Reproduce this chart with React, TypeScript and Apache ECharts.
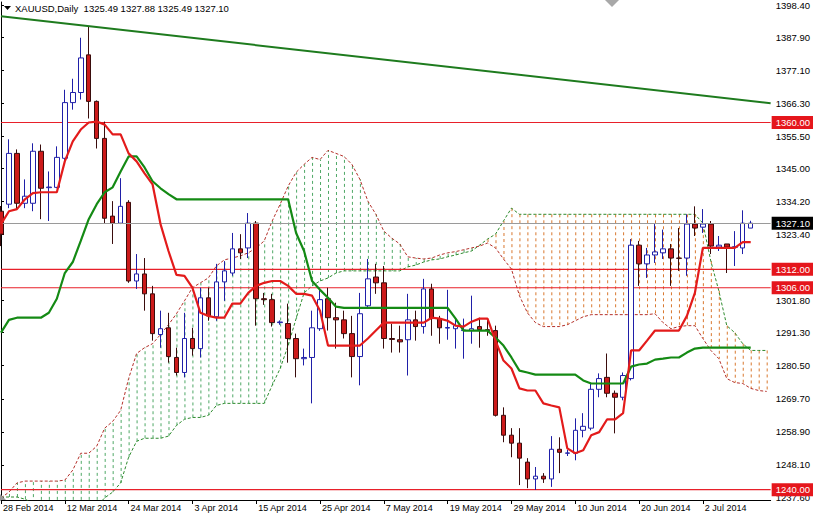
import React, { useEffect, useRef } from "react";
import * as echarts from "echarts";

// ---- data ----
const xLabelIdx = [0, 8, 16, 24, 32, 40, 48, 56, 64, 72, 80, 88];
const xLabels = ["28 Feb 2014", "12 Mar 2014", "24 Mar 2014", "3 Apr 2014", "15 Apr 2014", "25 Apr 2014", "7 May 2014", "19 May 2014", "29 May 2014", "10 Jun 2014", "20 Jun 2014", "2 Jul 2014"];
const yTicks = [1398.4, 1387.9, 1377.1, 1366.3, 1355.5, 1345.0, 1334.2, 1323.4, 1301.8, 1291.3, 1280.5, 1269.7, 1258.9, 1248.1, 1237.6];

const open = [1331.0, 1333.3, 1349.9, 1333.6, 1333.6, 1350.6, 1338.7, 1338.8, 1348.3, 1366.5, 1369.8, 1382.1, 1366.9, 1354.8, 1329.4, 1327.1, 1333.9, 1308.2, 1310.5, 1304.0, 1290.7, 1292.9, 1283.2, 1278.3, 1289.4, 1286.1, 1302.7, 1296.5, 1307.9, 1310.8, 1318.7, 1319.0, 1327.1, 1302.4, 1302.1, 1294.6, 1294.3, 1289.4, 1282.8, 1283.2, 1292.6, 1302.4, 1296.2, 1295.5, 1291.0, 1283.5, 1300.1, 1309.5, 1307.6, 1289.4, 1289.0, 1289.0, 1295.5, 1293.3, 1305.6, 1295.9, 1292.8, 1292.6, 1292.0, 1292.0, 1293.3, 1292.3, 1292.0, 1264.3, 1257.8, 1255.2, 1249.0, 1243.5, 1244.4, 1243.5, 1253.2, 1251.9, 1251.9, 1259.4, 1260.1, 1272.8, 1276.7, 1271.5, 1270.2, 1276.3, 1319.9, 1313.8, 1316.7, 1317.4, 1318.7, 1315.7, 1315.7, 1326.8, 1325.8, 1326.8, 1319.3, 1320.3, 1319.2, 1319.0, 1325.49];
const high = [1332.7, 1354.5, 1351.2, 1341.4, 1353.2, 1352.8, 1344.0, 1352.2, 1370.7, 1374.3, 1387.7, 1391.2, 1367.2, 1360.3, 1334.3, 1341.8, 1334.6, 1317.0, 1315.7, 1306.6, 1298.5, 1297.8, 1286.4, 1297.8, 1292.9, 1306.0, 1306.0, 1313.8, 1314.7, 1323.9, 1323.5, 1330.4, 1327.8, 1304.3, 1304.0, 1295.3, 1300.8, 1291.0, 1286.1, 1298.5, 1306.0, 1306.0, 1301.1, 1298.5, 1296.8, 1304.3, 1315.4, 1313.8, 1313.1, 1294.2, 1293.6, 1304.0, 1298.5, 1308.9, 1307.3, 1296.8, 1305.3, 1295.9, 1295.9, 1303.4, 1296.2, 1295.9, 1293.6, 1266.9, 1260.1, 1260.1, 1250.3, 1247.4, 1245.4, 1257.5, 1257.1, 1253.0, 1263.3, 1265.0, 1274.7, 1278.0, 1284.5, 1272.4, 1278.3, 1321.9, 1321.3, 1319.0, 1326.8, 1325.0, 1320.3, 1325.5, 1330.0, 1332.6, 1331.7, 1327.8, 1322.9, 1320.3, 1324.5, 1331.3, 1327.88];
const low = [1319.6, 1332.0, 1331.7, 1332.0, 1331.0, 1328.4, 1327.8, 1338.5, 1347.3, 1364.2, 1367.5, 1361.3, 1351.5, 1327.1, 1320.3, 1326.8, 1307.6, 1305.6, 1298.5, 1288.7, 1286.4, 1281.5, 1277.3, 1276.7, 1283.8, 1283.2, 1295.2, 1295.2, 1301.7, 1309.9, 1315.4, 1315.7, 1293.6, 1300.4, 1293.3, 1293.9, 1281.5, 1276.7, 1280.6, 1268.2, 1291.9, 1292.0, 1286.1, 1289.4, 1276.7, 1274.1, 1299.1, 1304.0, 1286.1, 1284.8, 1284.8, 1277.3, 1288.7, 1291.0, 1290.3, 1287.7, 1289.0, 1286.1, 1282.8, 1287.7, 1286.4, 1290.3, 1263.9, 1255.5, 1250.6, 1241.5, 1240.5, 1239.9, 1242.2, 1240.9, 1245.4, 1251.0, 1249.6, 1257.1, 1259.4, 1270.2, 1270.2, 1258.4, 1269.2, 1275.7, 1306.6, 1309.2, 1314.1, 1315.4, 1306.6, 1311.5, 1309.9, 1322.9, 1323.9, 1317.0, 1318.0, 1310.8, 1313.1, 1317.0, 1325.49];
const close = [1323.5, 1349.9, 1333.6, 1335.9, 1350.6, 1338.5, 1338.9, 1348.6, 1366.5, 1369.8, 1381.1, 1366.9, 1354.8, 1328.7, 1327.1, 1332.6, 1308.2, 1310.5, 1304.0, 1291.0, 1292.6, 1283.5, 1278.3, 1289.4, 1286.1, 1302.7, 1296.8, 1307.9, 1311.5, 1318.7, 1317.4, 1327.1, 1302.4, 1302.1, 1294.6, 1294.8, 1289.4, 1282.8, 1283.2, 1292.9, 1302.1, 1296.2, 1295.5, 1291.0, 1283.5, 1297.5, 1308.9, 1307.6, 1289.4, 1289.1, 1288.3, 1295.5, 1293.3, 1305.6, 1295.9, 1292.9, 1293.0, 1293.6, 1292.2, 1292.6, 1292.3, 1292.0, 1264.3, 1257.8, 1255.2, 1250.3, 1243.5, 1244.4, 1243.5, 1253.2, 1252.2, 1252.0, 1259.4, 1260.7, 1272.8, 1276.3, 1271.5, 1270.2, 1277.3, 1319.9, 1313.8, 1316.7, 1317.7, 1318.7, 1315.7, 1315.6, 1326.8, 1325.5, 1326.8, 1319.6, 1319.9, 1319.3, 1319.4, 1327.1, 1327.10];

const tenkan = [1326.8, 1331.0, 1331.7, 1334.9, 1336.9, 1337.2, 1337.2, 1337.2, 1347.3, 1353.8, 1357.7, 1360.0, 1360.3, 1359.3, 1356.1, 1356.1, 1349.9, 1347.3, 1343.4, 1339.8, 1326.8, 1318.0, 1310.2, 1309.9, 1306.0, 1297.8, 1296.8, 1296.2, 1296.2, 1300.8, 1300.8, 1304.3, 1306.6, 1307.6, 1308.2, 1308.2, 1306.6, 1304.0, 1304.0, 1303.4, 1298.5, 1287.1, 1287.1, 1287.1, 1287.1, 1287.1, 1289.4, 1292.0, 1294.6, 1294.6, 1294.6, 1294.6, 1294.6, 1294.6, 1296.2, 1295.9, 1295.2, 1293.6, 1293.3, 1294.9, 1295.9, 1295.9, 1288.7, 1282.2, 1279.6, 1273.1, 1272.4, 1272.4, 1268.2, 1267.5, 1266.9, 1253.5, 1251.9, 1252.9, 1257.8, 1258.8, 1263.0, 1263.0, 1265.0, 1285.5, 1285.5, 1288.7, 1292.0, 1292.0, 1292.0, 1292.0, 1296.8, 1304.3, 1319.0, 1319.0, 1319.0, 1319.0, 1319.0, 1320.9, 1320.9];
const kijun = [1291.3, 1295.5, 1296.2, 1296.2, 1296.2, 1296.2, 1297.8, 1302.4, 1310.8, 1314.4, 1321.3, 1328.4, 1333.3, 1337.2, 1338.8, 1344.0, 1348.9, 1348.9, 1345.3, 1340.8, 1338.5, 1336.6, 1334.9, 1334.9, 1334.9, 1334.9, 1334.9, 1334.9, 1334.9, 1334.9, 1334.9, 1334.9, 1334.9, 1334.9, 1334.9, 1334.9, 1334.9, 1323.9, 1318.0, 1308.2, 1305.3, 1302.7, 1299.8, 1299.4, 1299.4, 1299.4, 1299.4, 1299.4, 1299.4, 1299.4, 1299.4, 1299.4, 1299.4, 1299.4, 1299.4, 1299.4, 1299.4, 1295.9, 1292.0, 1292.0, 1292.0, 1292.0, 1289.7, 1287.1, 1283.2, 1278.9, 1278.3, 1277.6, 1277.6, 1277.6, 1277.6, 1277.6, 1277.6, 1275.7, 1274.7, 1274.7, 1274.7, 1274.7, 1274.7, 1280.2, 1280.9, 1281.2, 1282.5, 1282.8, 1283.2, 1283.2, 1284.8, 1286.1, 1286.4, 1286.4, 1286.4, 1286.4, 1286.4, 1286.4, 1286.4];
const spanA = [1237.6, 1237.6, 1237.6, 1236.9, 1235.6, 1234.7, 1234.7, 1234.7, 1234.7, 1234.7, 1234.7, 1234.7, 1234.7, 1237.3, 1239.2, 1242.2, 1250.6, 1255.8, 1256.8, 1256.8, 1256.8, 1257.5, 1261.0, 1263.0, 1263.6, 1263.6, 1264.3, 1267.5, 1268.2, 1268.2, 1268.2, 1268.2, 1268.2, 1268.2, 1274.1, 1279.6, 1287.1, 1295.9, 1304.3, 1306.6, 1308.2, 1309.2, 1310.8, 1311.5, 1311.5, 1311.5, 1311.5, 1311.5, 1311.5, 1311.5, 1311.5, 1312.8, 1313.4, 1314.4, 1315.1, 1315.4, 1316.1, 1316.7, 1317.4, 1318.0, 1319.9, 1321.9, 1323.5, 1327.8, 1332.0, 1330.0, 1330.0, 1330.0, 1330.0, 1330.0, 1330.0, 1330.0, 1330.0, 1330.0, 1330.0, 1330.0, 1330.0, 1330.0, 1330.0, 1330.0, 1330.0, 1330.0, 1330.0, 1330.0, 1330.0, 1330.0, 1330.0, 1330.0, 1327.1, 1314.7, 1305.0, 1293.6, 1291.3, 1287.7, 1285.5, 1285.5, 1285.5];
const spanB = [1237.3, 1239.2, 1242.2, 1242.8, 1242.8, 1242.8, 1242.8, 1242.8, 1243.1, 1246.4, 1251.9, 1251.9, 1254.2, 1260.1, 1262.3, 1265.9, 1276.3, 1284.5, 1286.4, 1287.7, 1290.7, 1293.9, 1297.5, 1301.7, 1306.0, 1307.6, 1309.2, 1313.1, 1315.1, 1315.7, 1316.4, 1317.4, 1319.0, 1321.3, 1327.8, 1333.3, 1339.2, 1343.7, 1346.3, 1348.6, 1347.9, 1350.9, 1349.9, 1348.9, 1346.3, 1341.4, 1334.3, 1330.0, 1324.5, 1322.2, 1320.3, 1316.1, 1315.7, 1315.4, 1315.7, 1316.7, 1317.4, 1317.8, 1318.4, 1319.0, 1319.6, 1320.6, 1319.0, 1315.4, 1312.1, 1303.4, 1297.8, 1294.6, 1293.3, 1293.3, 1293.3, 1293.9, 1295.2, 1296.5, 1297.2, 1297.2, 1297.2, 1297.2, 1297.2, 1297.2, 1297.2, 1297.2, 1297.5, 1294.6, 1292.6, 1293.3, 1293.6, 1293.6, 1289.4, 1285.5, 1282.8, 1276.3, 1275.0, 1274.7, 1273.1, 1272.4, 1272.1];

const trendLine = [[0, 1394.7], [96.5, 1366.3]];
const levels = [1360.0, 1312.0, 1306.0, 1240.0];
const bidPrice = 1327.1;
const titleText = "XAUUSD,Daily  1325.49 1327.88 1325.49 1327.10";

const FONT = "'Liberation Sans', Arial, sans-serif";
const LEVEL_RED = "#e8202a";

export default function App() {
  const ref = useRef<HTMLDivElement>(null);
  useEffect(() => {
    if (!ref.current) return;
    const chart = echarts.init(ref.current, null, { renderer: "svg" });
    const candleData = open.map((o, i) => [i, o, close[i], low[i], high[i]]);
    const tenkanData = tenkan.map((v, i) => [i, v]);
    const kijunData = kijun.map((v, i) => [i, v]);
    const aData = spanA.map((v, i) => [i, v]);
    const bData = spanB.map((v, i) => [i, v]);
    const cloudData = spanA.map((v, i) => [i, v, spanB[i]]);
    const labelMap: Record<number, string> = {};
    xLabelIdx.forEach((k, j) => (labelMap[k] = xLabels[j]));

    const boxLabel = (text: string, bg: string) => ({
      show: true,
      position: "end",
      distance: 1,
      formatter: () => text,
      backgroundColor: bg,
      color: "#ffffff",
      padding: [2, 5, 1, 4],
      fontSize: 9.5,
      fontFamily: FONT,
    });

    const levelSeries = levels.map((v) => ({
      type: "line",
      name: "level " + v,
      data: [[0, v], [96.5, v]],
      symbol: "none",
      z: 3,
      silent: true,
      lineStyle: { color: LEVEL_RED, width: 1.1, type: "solid" },
      endLabel: {
        show: true,
        distance: 1,
        formatter: () => v.toFixed(2),
        backgroundColor: "#e5161c",
        color: "#ffffff",
        padding: [2, 5, 1, 4],
        fontSize: 9.5,
        fontFamily: FONT,
      },
    }));

    chart.setOption({
      animation: false,
      backgroundColor: "#ffffff",
      grid: { left: 0, right: 41, top: 0, bottom: 17, containLabel: false },
      xAxis: {
        type: "value",
        min: 0,
        max: 96.5,
        axisLine: { show: true, onZero: false, lineStyle: { color: "#000", width: 1 } },
        axisTick: { show: true, customValues: xLabelIdx, length: 4, lineStyle: { color: "#000" } },
        axisLabel: {
          customValues: xLabelIdx,
          formatter: (v: number) => labelMap[Math.round(v)] || "",
          align: "left",
          margin: 3,
          padding: [0, 0, 0, 2],
          color: "#000",
          fontSize: 9,
          fontFamily: FONT,
        },
        splitLine: { show: false },
      },
      yAxis: {
        type: "value",
        position: "right",
        min: 1236.62,
        max: 1399.38,
        scale: true,
        axisLine: { show: true, lineStyle: { color: "#000", width: 1 } },
        axisTick: { show: true, customValues: yTicks, length: 3, lineStyle: { color: "#000" } },
        axisLabel: {
          customValues: yTicks,
          formatter: (v: number) => v.toFixed(2),
          margin: 5,
          color: "#000",
          fontSize: 9.5,
          fontFamily: FONT,
        },
        splitLine: { show: false },
      },
      graphic: [
        { type: "polygon", shape: { points: [[4, 6], [11, 6], [7.5, 10]] }, style: { fill: "#000" }, z: 100 },
        { type: "text", left: 15, top: 3, style: { text: titleText, fill: "#000", fontSize: 9.5, fontFamily: FONT }, z: 100 },
        { type: "polygon", shape: { points: [[605, 0], [619, 0], [612, 7]] }, style: { fill: "#a8a8a8" }, z: 100 },
        { type: "polygon", shape: { points: [[0, 494], [6, 500], [0, 500]] }, style: { fill: "#9a9a9a" }, z: 100 },
      ],
      series: [
        {
          type: "custom",
          name: "cloud",
          clip: true,
          z: 1,
          silent: true,
          data: cloudData,
          encode: { x: 0, y: [1, 2] },
          renderItem: (params: any, api: any) => {
            const i = api.value(0);
            const a = api.value(1);
            const b = api.value(2);
            const p1 = api.coord([i, a]);
            const p2 = api.coord([i, b]);
            return {
              type: "line",
              shape: { x1: p1[0] + 0.5, y1: p1[1], x2: p2[0] + 0.5, y2: p2[1] },
              style: { stroke: a > b ? "#d9782f" : "#4fa866", lineWidth: 1, lineDash: [3, 3] },
            };
          },
        },
        {
          type: "line",
          name: "spanA",
          data: aData,
          symbol: "none",
          z: 2,
          lineStyle: { color: "#2e8b2e", width: 1, type: [3, 2] },
        },
        {
          type: "line",
          name: "spanB",
          data: bData,
          symbol: "none",
          z: 2,
          lineStyle: { color: "#b4302a", width: 1, type: [3, 2] },
        },
        ...levelSeries,
        {
          type: "line",
          name: "marks",
          data: [],
          symbol: "none",
          z: 3,
          markLine: {
            silent: true,
            symbol: "none",
            animation: false,
            data: [
              {
                yAxis: bidPrice,
                lineStyle: { color: "#9a9a9a", width: 1, type: "solid" },
                label: boxLabel(bidPrice.toFixed(2), "#000000"),
              },
              [
                { coord: trendLine[0], lineStyle: { color: "#1e7b1e", width: 2, type: "solid" }, label: { show: false } },
                { coord: trendLine[1] },
              ],
            ],
          },
        },
        {
          type: "candlestick",
          name: "XAUUSD",
          data: candleData,
          encode: { x: 0, y: [1, 2, 3, 4] },
          barWidth: 5,
          z: 4,
          itemStyle: {
            color: "#ffffff",
            color0: "#cc1a1a",
            borderColor: "#1f1fa8",
            borderColor0: "#3a0c0c",
            borderColorDoji: "#1f1fa8",
            borderWidth: 1,
          },
        },
        {
          type: "line",
          name: "kijun",
          data: kijunData,
          symbol: "none",
          z: 5,
          lineStyle: { color: "#148a14", width: 2.2 },
        },
        {
          type: "line",
          name: "tenkan",
          data: tenkanData,
          symbol: "none",
          z: 6,
          lineStyle: { color: "#e31b1b", width: 2.2 },
        },
      ],
    });
    return () => chart.dispose();
  }, []);
  return <div ref={ref} style={{ position: "absolute", left: 0, top: 0, width: 813, height: 517 }} />;
}
